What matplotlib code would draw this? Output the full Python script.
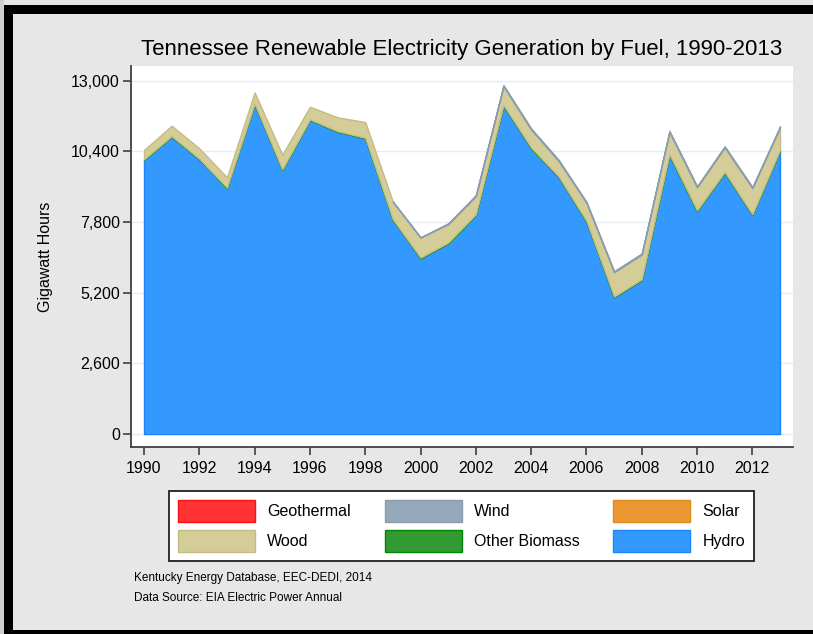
import matplotlib
matplotlib.use("Agg")
import matplotlib.pyplot as plt
from matplotlib.patches import Patch, Rectangle
import numpy as np

plt.rcParams['font.family'] = ['Liberation Sans', 'DejaVu Sans']

# data (GWh)
years = list(range(1990, 2014))
hydro = [10081, 10938, 10106, 9039, 12130, 9713, 11553, 11122, 10879, 7873, 6464, 7016,
         8057, 12079, 10511, 9444, 7811, 5029, 5666, 10265, 8204, 9614, 8057, 10423]
other_biomass = [20, 20, 20, 20, 20, 20, 20, 20, 20, 20, 25, 25,
                 25, 25, 25, 25, 25, 25, 25, 25, 25, 25, 25, 25]
wood = [350, 385, 385, 385, 420, 545, 470, 510, 580, 655, 740, 680,
        670, 690, 670, 570, 670, 900, 915, 820, 850, 905, 965, 830]
wind = [0, 0, 0, 0, 0, 0, 0, 0, 0, 0, 8, 30,
        40, 45, 40, 45, 40, 40, 40, 45, 40, 45, 45, 45]
solar = [0] * 24
geothermal = [0] * 24

y_ticks = [0, 2600, 5200, 7800, 10400, 13000]
x_ticks = list(range(1990, 2013, 2))

series = [
    ("Hydro", hydro, '#3399ff', '#1a85ff'),
    ("Other Biomass", other_biomass, '#339933', '#008800'),
    ("Wood", wood, '#d4cd98', '#c4bc85'),
    ("Wind", wind, '#94a8ba', '#8a9cb0'),
    ("Solar", solar, '#eb9833', '#e08a1a'),
    ("Geothermal", geothermal, '#ff3333', '#ff1010'),
]

fig = plt.figure(figsize=(8.13, 6.34), dpi=100, facecolor='#e7e7e7')

# frame pieces
fig.patches.append(Rectangle((0, 0), 4 / 813, 1, transform=fig.transFigure,
                             facecolor='#cfcfcf', edgecolor='none', zorder=0))
fig.patches.append(Rectangle((4 / 813, 1 - 14 / 634), 1, 9 / 634, transform=fig.transFigure,
                             facecolor='black', edgecolor='none', zorder=0))
fig.patches.append(Rectangle((4 / 813, 0), 8.5 / 813, 1 - 6 / 634, transform=fig.transFigure,
                             facecolor='black', edgecolor='none', zorder=0))
fig.patches.append(Rectangle((4 / 813, 0), 1, 4 / 634, transform=fig.transFigure,
                             facecolor='black', edgecolor='none', zorder=0))

ax = fig.add_axes([131 / 813, (634 - 447) / 634, (793 - 131) / 813, (447 - 66) / 634])
ax.set_facecolor('white')

x = np.array(years)
base = np.zeros(len(years))
handles = {}
for name, vals, fc, ec in series:
    v = np.array(vals)
    top = base + v
    if v.any():
        # only draw where the series is present (avoid zero-width edges)
        present = v > 0
        if not present.all():
            first = np.argmax(present)
            present[max(first - 1, 0)] = True
        ax.fill_between(x, base, top, where=present, facecolor=fc, edgecolor=ec,
                        linewidth=1.0, zorder=2)
    handles[name] = Patch(facecolor=fc, edgecolor=ec, linewidth=1.0)
    base = top

ax.set_xlim(1989.53, 2013.47)
ax.set_ylim(-478, 13541)
ax.set_yticks(y_ticks)
ax.set_yticklabels([f"{v:,}" for v in y_ticks])
ax.set_xticks(x_ticks)
ax.grid(axis='y', color='#e4edf1', linewidth=1.0, zorder=1)
ax.set_axisbelow(True)

for s in ['top', 'right']:
    ax.spines[s].set_visible(False)
for s in ['left', 'bottom']:
    ax.spines[s].set_color('#404040')
    ax.spines[s].set_linewidth(1.3)
ax.tick_params(axis='both', length=6, width=1.2, color='#404040', labelsize=11.5, pad=2)
ax.tick_params(axis='x', pad=4)

ax.set_ylabel("Gigawatt Hours", fontsize=11.5)
ax.yaxis.set_label_coords(-78 / 662, 0.5)

fig.text(462 / 813, 1 - 50 / 634, "Tennessee Renewable Electricity Generation by Fuel, 1990-2013",
         ha='center', va='center', fontsize=16)

order = ["Geothermal", "Wood", "Wind", "Other Biomass", "Solar", "Hydro"]
leg = fig.legend([handles[n] for n in order], order, ncol=3,
                 loc='upper left', bbox_to_anchor=(169 / 813, 1 - 491 / 634),
                 bbox_transform=fig.transFigure, fontsize=11.5, borderaxespad=0,
                 handlelength=4.82, handleheight=1.74, handletextpad=0.75,
                 columnspacing=2.13, labelspacing=0.5, borderpad=0.56,
                 fancybox=False, framealpha=1, edgecolor='#202020')
leg.get_frame().set_linewidth(1.3)

fig.text(134 / 813, 1 - 578 / 634, "Kentucky Energy Database, EEC-DEDI, 2014",
         ha='left', va='center', fontsize=8.5)
fig.text(134 / 813, 1 - 598 / 634, "Data Source: EIA Electric Power Annual",
         ha='left', va='center', fontsize=8.5)

fig.savefig("out.png", dpi=100, facecolor=fig.get_facecolor())
